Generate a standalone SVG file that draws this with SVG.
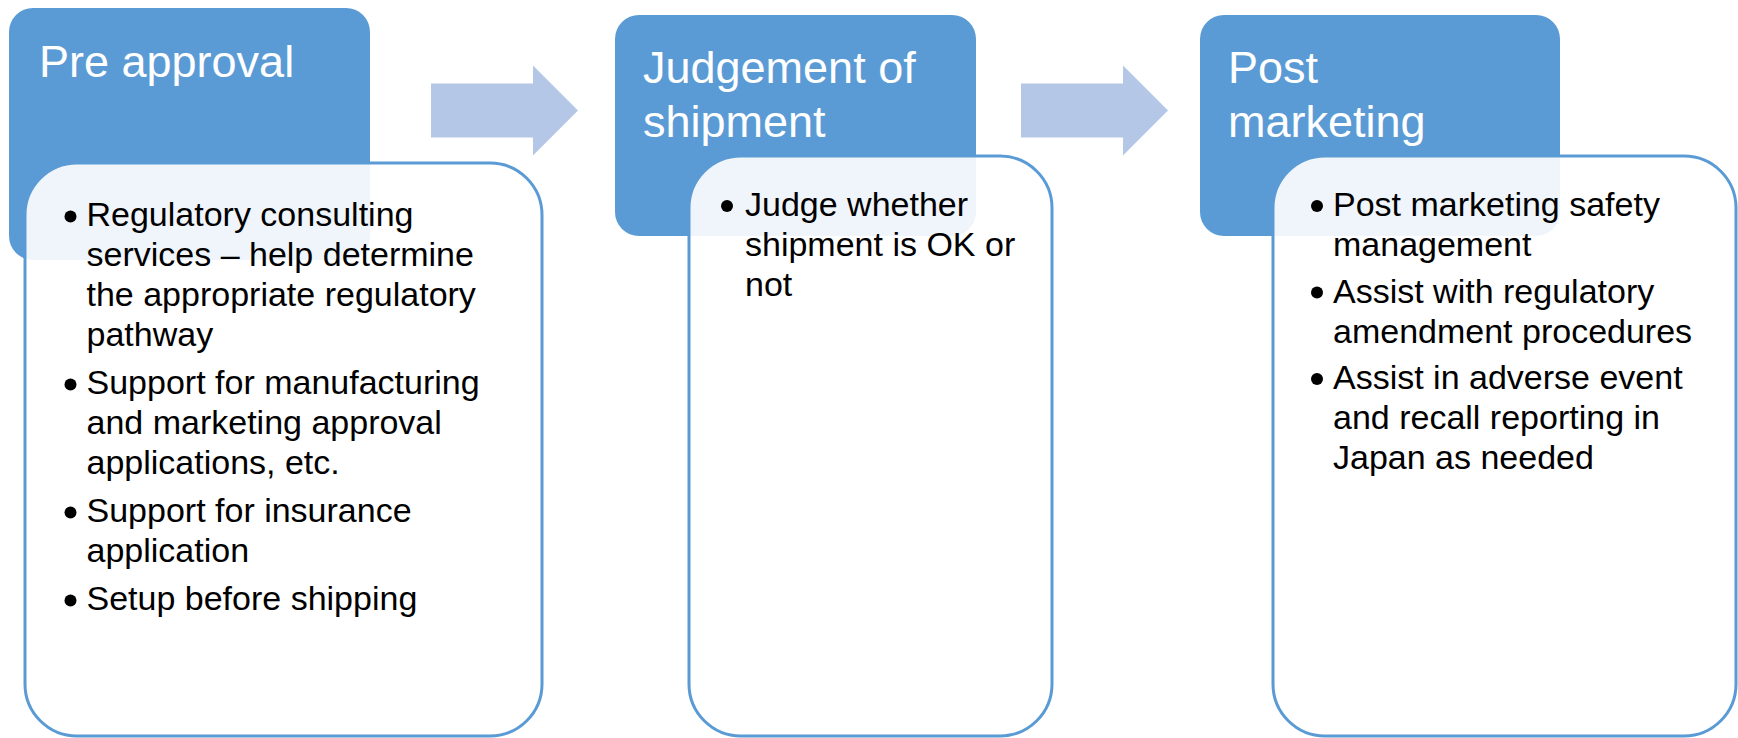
<svg xmlns="http://www.w3.org/2000/svg" width="1738" height="738" viewBox="0 0 1738 738">
  <style>
    .head { fill: #5B9BD5; }
    .card { fill: #FFFFFF; fill-opacity: 0.9; stroke: #5B9BD5; stroke-width: 3; }
    .arrow { fill: #B4C7E7; }
    .title { font-family: "Liberation Sans", Arial, sans-serif; font-size: 45px; fill: #FFFFFF; }
    .body { font-family: "Liberation Sans", Arial, sans-serif; font-size: 34px; fill: #000000; }
    .dot { fill: #000000; }
  </style>
  <rect width="1738" height="738" fill="#FFFFFF"/>

  <g id="connectors">
    <path class="arrow" d="M431,83.5 H533 V65.5 L578,110.5 L533,155.5 V137.5 H431 Z"/>
    <path class="arrow" d="M1021,83.5 H1123 V65.5 L1168,110.5 L1123,155.5 V137.5 H1021 Z"/>
  </g>

  <g id="pre-approval">
    <rect class="head" x="9" y="8" width="361" height="252" rx="24" ry="24"/>
    <text class="title" x="39" y="77">Pre approval</text>
    <rect class="card" x="25" y="163" width="517" height="573" rx="52" ry="52"/>
    <circle class="dot" cx="70.5" cy="216.5" r="6"/>
    <circle class="dot" cx="70.5" cy="384.5" r="6"/>
    <circle class="dot" cx="70.5" cy="512.5" r="6"/>
    <circle class="dot" cx="70.5" cy="600.5" r="6"/>
    <text class="body">
      <tspan x="86.5" y="226">Regulatory consulting</tspan>
      <tspan x="86.5" y="266">services – help determine</tspan>
      <tspan x="86.5" y="306">the appropriate regulatory</tspan>
      <tspan x="86.5" y="346">pathway</tspan>
      <tspan x="86.5" y="394">Support for manufacturing</tspan>
      <tspan x="86.5" y="434">and marketing approval</tspan>
      <tspan x="86.5" y="474">applications, etc.</tspan>
      <tspan x="86.5" y="522">Support for insurance</tspan>
      <tspan x="86.5" y="562">application</tspan>
      <tspan x="86.5" y="610">Setup before shipping</tspan>
    </text>
  </g>

  <g id="judgement-of-shipment">
    <rect class="head" x="615" y="15" width="361" height="221" rx="24" ry="24"/>
    <text class="title">
      <tspan x="643" y="83">Judgement of</tspan>
      <tspan x="643" y="136.5">shipment</tspan>
    </text>
    <rect class="card" x="689" y="156" width="363" height="580" rx="52" ry="52"/>
    <circle class="dot" cx="727" cy="206" r="6"/>
    <text class="body">
      <tspan x="745" y="216">Judge whether</tspan>
      <tspan x="745" y="256">shipment is OK or</tspan>
      <tspan x="745" y="296">not</tspan>
    </text>
  </g>

  <g id="post-marketing">
    <rect class="head" x="1200" y="15" width="360" height="221" rx="24" ry="24"/>
    <text class="title">
      <tspan x="1228" y="83">Post</tspan>
      <tspan x="1228" y="136.5">marketing</tspan>
    </text>
    <rect class="card" x="1273" y="156" width="463" height="580" rx="52" ry="52"/>
    <circle class="dot" cx="1317" cy="206" r="6"/>
    <circle class="dot" cx="1317" cy="292.5" r="6"/>
    <circle class="dot" cx="1317" cy="379" r="6"/>
    <text class="body">
      <tspan x="1333" y="216">Post marketing safety</tspan>
      <tspan x="1333" y="256">management</tspan>
      <tspan x="1333" y="302.5">Assist with regulatory</tspan>
      <tspan x="1333" y="342.5">amendment procedures</tspan>
      <tspan x="1333" y="389">Assist in adverse event</tspan>
      <tspan x="1333" y="429">and recall reporting in</tspan>
      <tspan x="1333" y="469">Japan as needed</tspan>
    </text>
  </g>
</svg>
